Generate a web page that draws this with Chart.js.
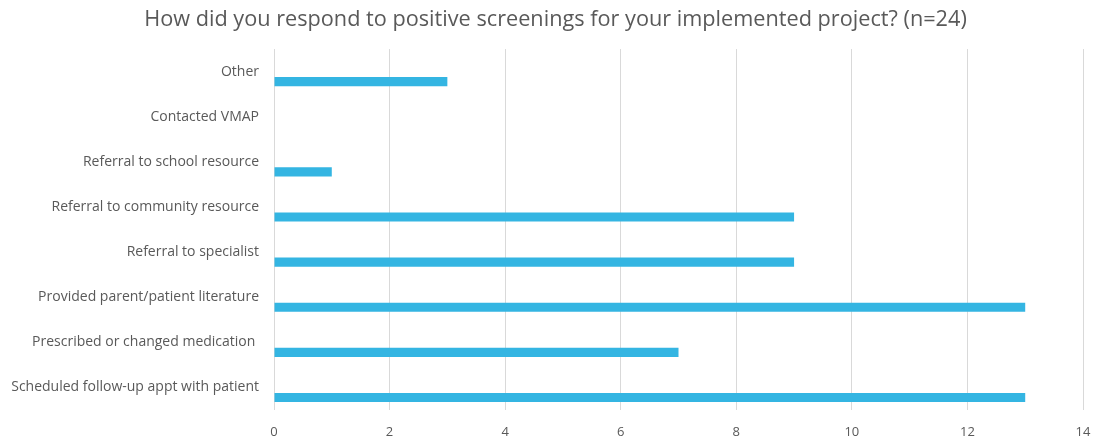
<!DOCTYPE html>
<html>
<head>
<meta charset="utf-8">
<script src="https://cdn.jsdelivr.net/npm/chart.js@4"></script>
<style>
  body { margin: 0; background: #fff; }
  #wrap { width: 1096px; height: 440px; }
</style>
</head>
<body>
<div id="wrap"><canvas id="chart"></canvas></div>
<script>
'use strict'
let labels = [
        'Other',
        'Contacted VMAP',
        'Referral to school resource',
        'Referral to community resource',
        'Referral to specialist',
        'Provided parent/patient literature',
        'Prescribed or changed medication ',
        'Scheduled follow-up appt with patient'],
    counts = [3, 0, 1, 9, 9, 13, 7, 13],
    emptySeries = [null, null, null, null, null, null, null, null],
    xTicks = [0, 2, 4, 6, 8, 10, 12, 14]

let data = {
    labels: labels,
    datasets: [{
        data: emptySeries,
        backgroundColor: 'rgba(0,0,0,0)'
    }, {
        label: 'Responses',
        data: counts,
        backgroundColor: '#34b5e2',
        borderWidth: 0
    }]
}

let config = {
    type: 'bar',
    data: data,
    options: {
        indexAxis: 'y',
        responsive: false,
        animation: false,
        datasets: {
            bar: { categoryPercentage: 0.89, barPercentage: 0.45 }
        },
        // negative right padding widens the title box so the title sits a bit right of centre
        layout: { padding: { left: 2, right: -13, top: 4, bottom: 0 } },
        plugins: {
            legend: { display: false },
            tooltip: { enabled: false },
            title: {
                display: true,
                text: 'How did you respond to positive screenings for your implemented project? (n=24)',
                color: '#595959',
                font: { family: 'Open Sans', size: 21.7, weight: 'normal' },
                padding: { top: 3, bottom: 16 }
            }
        },
        scales: {
            x: {
                min: 0,
                max: 14,
                afterBuildTicks: (axis) => { axis.ticks = xTicks.map(v => ({ value: v })) },
                afterFit: (axis) => {
                    axis.height = 30
                    axis.paddingRight = 13
                },
                grid: { color: '#d9d9d9', drawTicks: false },
                border: { display: false },
                ticks: {
                    color: '#595959',
                    padding: 14,
                    font: { family: 'Open Sans', size: 13 }
                }
            },
            y: {
                afterFit: (axis) => { axis.width = 272 },
                grid: { display: false },
                border: { display: false },
                ticks: {
                    color: '#595959',
                    padding: 7,
                    font: { family: 'Open Sans', size: 14 }
                }
            }
        }
    }
}

let canvas = document.getElementById('chart')
canvas.width = 1096
canvas.height = 440
let myChart = new Chart(canvas, config)
</script>
</body>
</html>
